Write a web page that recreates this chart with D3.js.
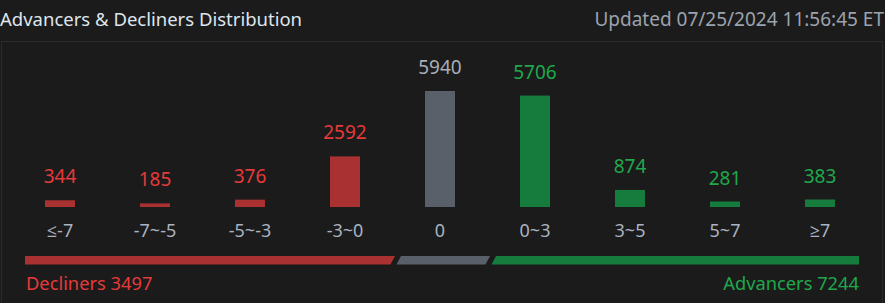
<!DOCTYPE html>
<html lang="en">
<head>
<meta charset="utf-8">
<title>Advancers & Decliners Distribution</title>
<script src="https://cdn.jsdelivr.net/npm/d3@7"></script>
<style>
  html, body { margin: 0; padding: 0; background: #1b1b1b; }
  svg { display: block; font-family: "Noto Sans", "Open Sans", sans-serif; }
  .title { fill: #dfe5ee; font-size: 18.5px; }
  .updated { fill: #9ba3ae; font-size: 19px; }
  .cat { fill: #a9b3c1; font-size: 18px; }
  .val { font-size: 19px; }
  .sum { font-size: 18.3px; }
</style>
</head>
<body>
<script>
// data
var categories = ["≤-7", "-7~-5", "-5~-3", "-3~0", "0", "0~3", "3~5", "5~7", "≥7"];
var counts = [344, 185, 376, 2592, 5940, 5706, 874, 281, 383];
var groups = ["down", "down", "down", "down", "flat", "up", "up", "up", "up"];
var decliners = 3497;
var advancers = 7244;
var updatedText = "Updated 07/25/2024 11:56:45 ET";

var w = 885, h = 303;
var barColor = { down: "#aa3131", flat: "#5a606a", up: "#157c3d" };
var textColor = { down: "#e53a3a", flat: "#a7adb7", up: "#1fa84c" };

var svg = d3.select("body").append("svg")
  .attr("width", w)
  .attr("height", h);

// header
svg.append("text")
  .attr("class", "title")
  .attr("x", 0)
  .attr("y", 26)
  .text("Advancers & Decliners Distribution");

svg.append("text")
  .attr("class", "updated")
  .attr("x", 884)
  .attr("y", 26)
  .attr("text-anchor", "end")
  .text(updatedText);

// panel
svg.append("rect")
  .attr("x", 1.5)
  .attr("y", 41.5)
  .attr("width", 881)
  .attr("height", 280)
  .attr("fill", "none")
  .attr("stroke", "#2b2b2b");

// scales
var x = d3.scalePoint()
  .domain(categories)
  .range([60, 820]);

var y = d3.scaleLinear()
  .domain([0, d3.max(counts)])
  .range([207, 91]);

var barW = 30;

var data = categories.map(function(c, i) {
  return { cat: c, value: counts[i], group: groups[i] };
});

// bars
svg.selectAll(".bar")
  .data(data)
  .enter().append("rect")
  .attr("class", "bar")
  .attr("x", function(d) { return x(d.cat) - barW / 2; })
  .attr("y", function(d) { return y(d.value); })
  .attr("width", barW)
  .attr("height", function(d) { return y(0) - y(d.value); })
  .attr("fill", function(d) { return barColor[d.group]; });

// value labels
svg.selectAll(".val")
  .data(data)
  .enter().append("text")
  .attr("class", "val")
  .attr("x", function(d) { return x(d.cat); })
  .attr("y", function(d) { return y(d.value) - 17; })
  .attr("text-anchor", "middle")
  .attr("fill", function(d) { return textColor[d.group]; })
  .text(function(d) { return d.value; });

// category labels
svg.selectAll(".cat")
  .data(data)
  .enter().append("text")
  .attr("class", "cat")
  .attr("x", function(d) { return x(d.cat); })
  .attr("y", 237)
  .attr("text-anchor", "middle")
  .text(function(d) { return d.cat; });

// summary strip: red up to the "0" column, gray across it, green after
var step = x.step();
var midL = x("0") - step / 2, midR = x("0") + step / 2;
var stripL = 25, stripR = 859, stripT = 256, stripB = 264.5, slant = 4.5, gap = 2.5;

var segs = [
  { pts: [[stripL, stripT], [midL + gap, stripT], [midL + gap - slant, stripB], [stripL, stripB]], c: barColor.down },
  { pts: [[midL + gap + 6, stripT], [midR + gap, stripT], [midR + gap - slant, stripB], [midL + gap + 6 - slant, stripB]], c: barColor.flat },
  { pts: [[midR + gap + 6, stripT], [stripR, stripT], [stripR, stripB], [midR + gap + 6 - slant, stripB]], c: barColor.up }
];

svg.selectAll(".seg")
  .data(segs)
  .enter().append("path")
  .attr("class", "seg")
  .attr("d", function(d) { return d3.line()(d.pts) + "Z"; })
  .attr("fill", function(d) { return d.c; });

svg.append("text")
  .attr("class", "sum")
  .attr("x", 26)
  .attr("y", 290)
  .attr("fill", textColor.down)
  .text("Decliners " + decliners);

svg.append("text")
  .attr("class", "sum")
  .attr("x", 859)
  .attr("y", 290)
  .attr("text-anchor", "end")
  .attr("fill", textColor.up)
  .text("Advancers " + advancers);
</script>
</body>
</html>
